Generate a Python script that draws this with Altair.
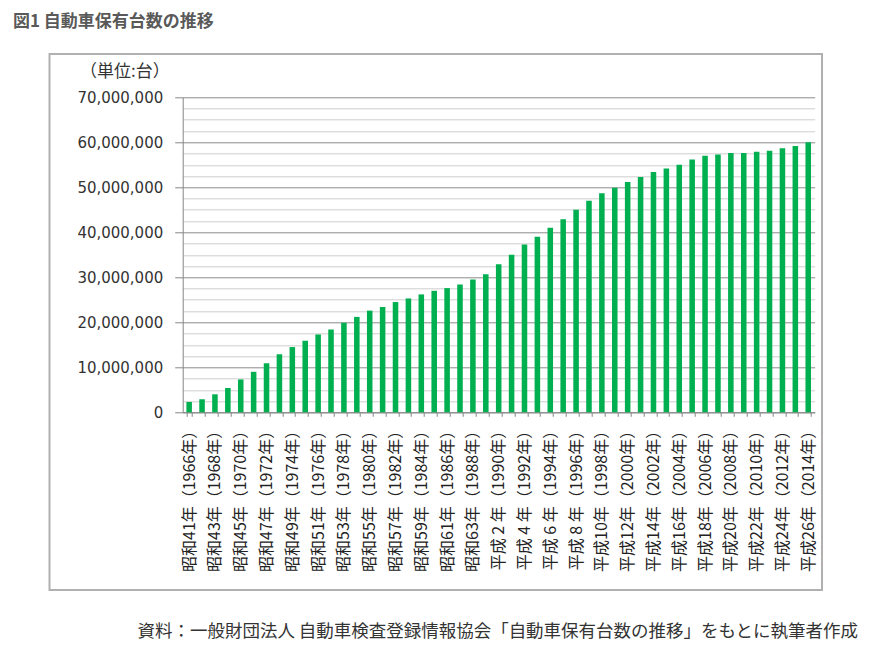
import json
import altair as alt
import pandas as pd

years = list(range(1966, 2015))
vehicles_million = [
    2.3, 2.9, 4.0, 5.4, 7.3, 9.0, 10.9, 12.9, 14.5, 15.9,
    17.3, 18.4, 19.9, 21.2, 22.6, 23.4, 24.5, 25.3, 26.2, 27.0,
    27.6, 28.4, 29.5, 30.7, 32.9, 35.0, 37.3, 39.0, 41.0, 42.9,
    45.0, 47.0, 48.7, 49.9, 51.2, 52.3, 53.4, 54.2, 55.0, 56.2,
    57.0, 57.3, 57.6, 57.6, 57.9, 58.1, 58.7, 59.2, 60.0,
]
tick_labels = [
    "昭和41年（1966年）", "昭和43年（1968年）", "昭和45年（1970年）",
    "昭和47年（1972年）", "昭和49年（1974年）", "昭和51年（1976年）",
    "昭和53年（1978年）", "昭和55年（1980年）", "昭和57年（1982年）",
    "昭和59年（1984年）", "昭和61年（1986年）", "昭和63年（1988年）",
    "平成 2 年（1990年）", "平成 4 年（1992年）", "平成 6 年（1994年）",
    "平成 8 年（1996年）", "平成10年（1998年）", "平成12年（2000年）",
    "平成14年（2002年）", "平成16年（2004年）", "平成18年（2006年）",
    "平成20年（2008年）", "平成22年（2010年）", "平成24年（2012年）",
    "平成26年（2014年）",
]
y_ticks = [0, 10000000, 20000000, 30000000, 40000000, 50000000, 60000000, 70000000]
y_minor = [v * 2500000 for v in range(29) if v % 4 != 0]

title_text = "図1 自動車保有台数の推移"
unit_text = "（単位:台）"
source_text = "資料：一般財団法人 自動車検査登録情報協会「自動車保有台数の推移」をもとに執筆者作成"

df = pd.DataFrame({"year": years, "count": [v * 1_000_000 for v in vehicles_million]})

W, H = 632, 315
label_expr = f"{json.dumps(tick_labels, ensure_ascii=False)}[(datum.value - 1966) / 2] || ''"

yscale = alt.Scale(domain=[0, 70000000], nice=False, zero=True)

bars = alt.Chart(df).mark_bar(color="#00B050").encode(
    x=alt.X("year:O", title=None,
            scale=alt.Scale(paddingInner=0.57, paddingOuter=0.285),
            axis=alt.Axis(labelExpr=label_expr, labelAngle=270, labelFont="Noto Sans CJK JP",
                          labelFontSize=16, labelColor="#222222", labelPadding=6,
                          tickBand="extent", tickSize=4, tickColor="#868686",
                          domainColor="#868686", labelOverlap=False)),
    y=alt.Y("count:Q", title=None, scale=yscale,
            axis=alt.Axis(values=y_ticks, format=",d", labelFont="DejaVu Sans", labelFontSize=15,
                          labelColor="#333333", tickSize=8, tickColor="#868686",
                          domainColor="#868686", labelPadding=12,
                          grid=True, gridColor="#8c8c8c")),
)

minor = alt.Chart(df).mark_bar(opacity=0).encode(
    x=alt.X("year:O"),
    y=alt.Y("count:Q", scale=yscale,
            axis=alt.Axis(values=y_minor, orient="right", labels=False, ticks=False,
                          domain=False, title=None, grid=True, gridColor="#cfcfcf")),
)

one = alt.Data(values=[{"a": 1}])

frame = alt.Chart(one).mark_rect(fillOpacity=0, stroke="#b0b0b0", strokeWidth=2).encode(
    x=alt.value(49.5 - 182.7), x2=alt.value(822 - 182.7),
    y=alt.value(54 - 97.3), y2=alt.value(590 - 97.3),
)

title = alt.Chart(one).mark_text(text=title_text, align="left", baseline="middle",
                                 font="Noto Sans CJK JP", fontSize=17, fontWeight="bold",
                                 color="#595959").encode(
    x=alt.value(13 - 182.7), y=alt.value(22 - 97.3))

unit = alt.Chart(one).mark_text(text=unit_text, align="left", baseline="middle",
                                font="Noto Sans CJK JP", fontSize=17, color="#333333").encode(
    x=alt.value(80 - 182.7), y=alt.value(72 - 97.3))

source = alt.Chart(one).mark_text(text=source_text, align="right", baseline="middle",
                                  font="Noto Sans CJK JP", fontSize=17.5, color="#333333").encode(
    x=alt.value(858 - 182.7), y=alt.value(632 - 97.3))

chart = alt.layer(minor, bars, frame, title, unit, source).resolve_axis(
    y="independent"
).properties(
    width=W, height=H,
    autosize=alt.AutoSizeParams(type="none"),
    padding={"left": 174.7, "top": 89.3, "right": 45, "bottom": 229},
    background="white",
).configure_view(stroke=None)

chart.save("out.html", embed_options={"renderer": "svg", "actions": False})
